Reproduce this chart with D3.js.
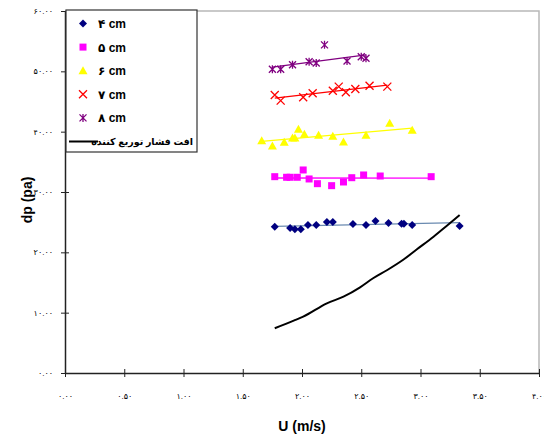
<!DOCTYPE html>
<html>
<head>
<meta charset="utf-8">
<script src="https://cdn.jsdelivr.net/npm/d3@7"></script>
<style>
  body { margin: 0; background: #fff; }
  text { font-family: "Liberation Sans", Arial, "DejaVu Sans", sans-serif; }
</style>
</head>
<body>
<svg id="chart" width="544" height="439"></svg>
<script>
// U (m/s) and dp (pa)
var u4 = [1.77, 1.90, 1.94, 1.99, 2.05, 2.12, 2.21, 2.26, 2.43, 2.54, 2.62, 2.73, 2.84, 2.86, 2.93, 3.33];
var dp4 = [24.25, 24.03, 23.82, 23.82, 24.53, 24.53, 25.03, 25.03, 24.70, 24.53, 25.20, 24.86, 24.75, 24.75, 24.53, 24.37];

var u5 = [1.77, 1.87, 1.90, 1.96, 2.01, 2.06, 2.13, 2.25, 2.35, 2.42, 2.52, 2.66, 3.09];
var dp5 = [32.54, 32.44, 32.44, 32.44, 33.65, 32.16, 31.38, 31.05, 31.66, 32.37, 32.82, 32.65, 32.54];

var u6 = [1.66, 1.75, 1.85, 1.92, 1.94, 1.97, 2.02, 2.14, 2.26, 2.35, 2.54, 2.74, 2.93];
var dp6 = [38.50, 37.63, 38.24, 38.95, 38.95, 40.39, 39.57, 39.40, 39.23, 38.29, 39.40, 41.39, 40.23];

var u7 = [1.77, 1.82, 2.01, 2.09, 2.26, 2.31, 2.37, 2.45, 2.57, 2.72];
var dp7 = [46.08, 45.14, 45.70, 46.36, 46.79, 47.46, 46.53, 47.07, 47.62, 47.46];

var u8 = [1.75, 1.82, 1.92, 2.06, 2.12, 2.19, 2.38, 2.50, 2.54];
var dp8 = [50.34, 50.34, 51.10, 51.60, 51.38, 54.39, 51.72, 52.43, 52.16];

// distributor pressure drop curve
var uDist = [1.77, 1.93, 2.01, 2.21, 2.35, 2.49, 2.60, 2.72, 2.86, 2.97, 3.11, 3.22, 3.33];
var dpDist = [7.41, 8.67, 9.33, 11.55, 12.65, 14.20, 15.70, 17.07, 18.85, 20.50, 22.59, 24.37, 26.19];

var seriesNames = ['۴ cm', '۵ cm', '۶ cm', '۷ cm', '۸ cm'];
var distName = 'افت فشار توریع کننده';
var xTickLabels = ['۰.۰۰', '۰.۵۰', '۱.۰۰', '۱.۵۰', '۲.۰۰', '۲.۵۰', '۳.۰۰', '۳.۵۰', '۴.۰۰'];
var yTickLabels = ['۰.۰۰', '۱۰.۰۰', '۲۰.۰۰', '۳۰.۰۰', '۴۰.۰۰', '۵۰.۰۰', '۶۰.۰۰'];

var svg = d3.select('#chart');

var x = d3.scaleLinear().domain([0, 4]).range([65, 539]);
var y = d3.scaleLinear().domain([0, 60]).range([373, 11]);

var series = [
    { u: u4, dp: dp4, color: '#000080', trend: '#6a8ab0', shape: 'diamond' },
    { u: u5, dp: dp5, color: '#ff00ff', trend: '#ff00ff', shape: 'square' },
    { u: u6, dp: dp6, color: '#ffff00', trend: '#ffff00', shape: 'triangle' },
    { u: u7, dp: dp7, color: '#ff0000', trend: '#ff0000', shape: 'cross' },
    { u: u8, dp: dp8, color: '#800080', trend: '#800080', shape: 'star' }
];

// plot area frame (light grey on top and right)
svg.append('path')
    .attr('d', 'M' + x(0) + ',' + y(60) + 'H' + x(4) + 'V' + y(0))
    .attr('fill', 'none')
    .attr('stroke', '#b8b8b8')
    .attr('stroke-width', 1.5);

// axes
var xAxis = d3.axisBottom(x)
    .tickValues(d3.range(0, 4.01, 0.5))
    .tickSizeInner(4).tickSizeOuter(0)
    .tickFormat(function (d, i) { return xTickLabels[i]; });
var gx = svg.append('g').attr('transform', 'translate(0,' + y(0) + ')').call(xAxis);

var yAxis = d3.axisLeft(y)
    .tickValues(d3.range(0, 61, 10))
    .tickSizeInner(4).tickSizeOuter(0)
    .tickFormat(function (d, i) { return yTickLabels[i]; });
var gy = svg.append('g').attr('transform', 'translate(' + x(0) + ',0)').call(yAxis);

// ticks cross the axis line like the original
[gx, gy].forEach(function (g) {
    g.select('.domain').attr('stroke', '#222').attr('stroke-width', 1.5);
    g.selectAll('.tick text').attr('font-size', 8).attr('fill', '#000');
});
gx.selectAll('.tick line').attr('y1', -4).attr('y2', 4).attr('stroke', '#222');
gx.selectAll('.tick text').attr('y', 20);
gy.selectAll('.tick line').attr('x1', 4).attr('x2', -4).attr('stroke', '#222');
gy.selectAll('.tick text').attr('x', -12);

// axis titles
svg.append('text')
    .attr('x', 302).attr('y', 431)
    .attr('text-anchor', 'middle')
    .attr('font-size', 14).attr('font-weight', 'bold')
    .text('U (m/s)');
svg.append('text')
    .attr('transform', 'translate(32,200) rotate(-90)')
    .attr('text-anchor', 'middle')
    .attr('font-size', 14).attr('font-weight', 'bold')
    .text('dp (pa)');

// least squares line, like the spreadsheet trendline
function fit(us, ds) {
    var mu = d3.mean(us), md = d3.mean(ds);
    var num = d3.sum(us, function (v, i) { return (v - mu) * (ds[i] - md); });
    var den = d3.sum(us, function (v) { return (v - mu) * (v - mu); });
    var b = num / den;
    return function (v) { return md + b * (v - mu); };
}

function drawMarker(g, shape, color) {
    if (shape === 'diamond') {
        g.append('path').attr('d', 'M0,-4L4,0L0,4L-4,0Z').attr('fill', color);
    } else if (shape === 'square') {
        g.append('rect').attr('x', -3.5).attr('y', -3.5).attr('width', 7).attr('height', 7).attr('fill', color);
    } else if (shape === 'triangle') {
        g.append('path').attr('d', 'M0,-4.5L4.5,3.5L-4.5,3.5Z').attr('fill', color);
    } else if (shape === 'cross') {
        g.append('path').attr('d', 'M-4,-4L4,4M-4,4L4,-4')
            .attr('stroke', color).attr('stroke-width', 1.3).attr('fill', 'none');
    } else {
        g.append('path').attr('d', 'M-3.5,-3.5L3.5,3.5M-3.5,3.5L3.5,-3.5M0,-4V4')
            .attr('stroke', color).attr('stroke-width', 1.3).attr('fill', 'none');
    }
}

var line = d3.line()
    .x(function (d) { return x(d[0]); })
    .y(function (d) { return y(d[1]); });

series.forEach(function (s) {
    var f = fit(s.u, s.dp);
    var u0 = d3.min(s.u), u1 = d3.max(s.u);
    svg.append('path')
        .datum([[u0, f(u0)], [u1, f(u1)]])
        .attr('d', line)
        .attr('fill', 'none')
        .attr('stroke', s.trend)
        .attr('stroke-width', 1.3);

    s.u.forEach(function (v, i) {
        var g = svg.append('g').attr('transform', 'translate(' + x(v) + ',' + y(s.dp[i]) + ')');
        drawMarker(g, s.shape, s.color);
    });
});

// distributor curve, smoothed
svg.append('path')
    .datum(uDist.map(function (v, i) { return [v, dpDist[i]]; }))
    .attr('d', line.curve(d3.curveMonotoneX))
    .attr('fill', 'none')
    .attr('stroke', '#000')
    .attr('stroke-width', 2);

// legend
var legend = svg.append('g');
legend.append('rect')
    .attr('x', 66).attr('y', 10).attr('width', 131).attr('height', 142)
    .attr('fill', '#fff').attr('stroke', '#333').attr('stroke-width', 1.2);

series.forEach(function (s, i) {
    var ly = 23.5 + i * 23.6;
    var g = legend.append('g').attr('transform', 'translate(83,' + ly + ')');
    drawMarker(g, s.shape, s.color);
    legend.append('text')
        .attr('x', 98).attr('y', ly + 4.5)
        .attr('font-size', 12).attr('font-weight', 'bold')
        .attr('direction', 'ltr')
        .text(seriesNames[i]);
});
legend.append('line')
    .attr('x1', 69).attr('x2', 98).attr('y1', 141.5).attr('y2', 141.5)
    .attr('stroke', '#000').attr('stroke-width', 2);
legend.append('text')
    .attr('x', 193).attr('y', 145)
    .attr('text-anchor', 'end')
    .attr('font-size', 9.5).attr('font-weight', 'bold')
    .text(distName);
</script>
</body>
</html>
